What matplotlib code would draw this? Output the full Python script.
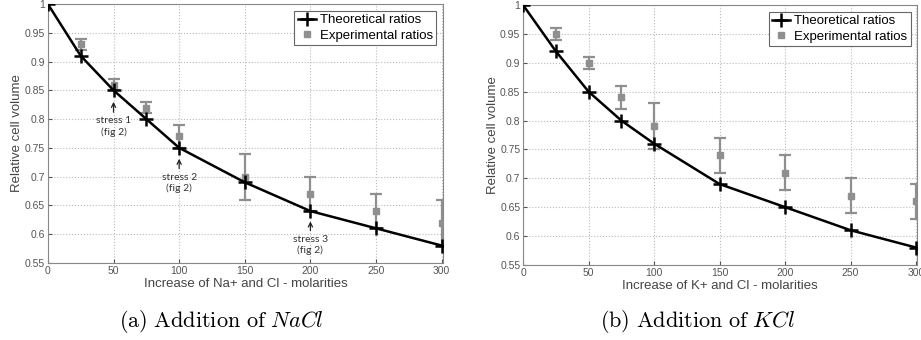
import numpy as np
import matplotlib
matplotlib.use('Agg')
import matplotlib.pyplot as plt

plt.rcParams['font.family'] = ['Liberation Sans', 'DejaVu Sans']
plt.rcParams['mathtext.fontset'] = 'cm'

conc = [0, 25, 50, 75, 100, 150, 200, 250, 300]
exp_conc = [25, 50, 75, 100, 150, 200, 250, 300]

# NaCl
nacl_theo = [1.0, 0.91, 0.85, 0.80, 0.75, 0.69, 0.64, 0.61, 0.58]
nacl_exp = [0.93, 0.86, 0.82, 0.77, 0.70, 0.67, 0.64, 0.62]
nacl_err = [0.01, 0.01, 0.01, 0.02, 0.04, 0.03, 0.03, 0.04]

# KCl
kcl_theo = [1.0, 0.92, 0.85, 0.80, 0.76, 0.69, 0.65, 0.61, 0.58]
kcl_exp = [0.95, 0.90, 0.84, 0.79, 0.74, 0.71, 0.67, 0.66]
kcl_err = [0.01, 0.01, 0.02, 0.04, 0.03, 0.03, 0.03, 0.03]

stress_x = [50, 100, 200]
stress_tip = [0.830, 0.731, 0.622]
stress_text = [0.787, 0.689, 0.581]
stress_labels = ['stress 1\n(fig 2)', 'stress 2\n(fig 2)', 'stress 3\n(fig 2)']

yticks = [0.55, 0.6, 0.65, 0.7, 0.75, 0.8, 0.85, 0.9, 0.95, 1.0]
ytick_labels = ['0.55', '0.6', '0.65', '0.7', '0.75', '0.8', '0.85', '0.9', '0.95', '1']
xticks = [0, 50, 100, 150, 200, 250, 300]

fig = plt.figure(figsize=(9.21, 3.40), dpi=100)
ax1 = fig.add_axes([0.052, 0.227, 0.429, 0.761])
ax2 = fig.add_axes([0.568, 0.221, 0.428, 0.764])

gray = '#8f8f8f'


def draw(ax, theo, exp, err, xlabel):
    ax.errorbar(exp_conc, exp, yerr=err, fmt='none', ecolor=gray,
                elinewidth=1.6, capsize=4, capthick=1.6, zorder=3)
    ax.plot(exp_conc, exp, 's', color=gray, markersize=4.5,
            label='Experimental ratios', zorder=3)
    ax.plot(conc, theo, color='black', lw=1.8, marker='+', markersize=10,
            markeredgewidth=1.8, label='Theoretical ratios', zorder=4)
    ax.set_xlim(0, 301)
    ax.set_ylim(0.55, 1.0)
    ax.set_xticks(xticks)
    ax.set_yticks(yticks)
    ax.set_yticklabels(ytick_labels)
    ax.tick_params(direction='in', labelsize=7.5, colors='#555555', length=3, pad=2)
    ax.tick_params(axis='x', pad=2.5)
    ax.grid(True, linestyle=':', color='#bbbbbb', lw=0.8)
    for s in ax.spines.values():
        s.set_color('#888888')
    ax.set_xlabel(xlabel, fontsize=9.5, color='#444444', labelpad=1)
    ax.set_ylabel('Relative cell volume', fontsize=9.5, color='#444444', labelpad=1)
    h, l = ax.get_legend_handles_labels()
    leg = ax.legend([h[1], h[0]], [l[1], l[0]], loc='upper right', fontsize=9.5,
                    fancybox=False, framealpha=1, edgecolor='#666666',
                    borderpad=0.25, handlelength=1.4, handletextpad=0.3,
                    labelspacing=0.25, borderaxespad=0.5)
    leg.get_frame().set_linewidth(0.8)


draw(ax1, nacl_theo, nacl_exp, nacl_err, 'Increase of Na+ and Cl - molarities')
draw(ax2, kcl_theo, kcl_exp, kcl_err, 'Increase of K+ and Cl - molarities')

for x, tip, ty, lab in zip(stress_x, stress_tip, stress_text, stress_labels):
    ax1.annotate(lab, xy=(x, tip), xytext=(x, ty), ha='center', va='center',
                 fontsize=7.5, color='#333333', family=['Lato', 'DejaVu Sans'],
                 linespacing=1.25,
                 arrowprops=dict(arrowstyle='->', color='#222222', lw=0.9,
                                 shrinkA=1, shrinkB=0))

fig.text(0.240, 0.053, r'$\mathrm{(a)\ Addition\ of}\ NaCl$', ha='center',
         va='center', fontsize=16)
fig.text(0.757, 0.053, r'$\mathrm{(b)\ Addition\ of}\ KCl$', ha='center',
         va='center', fontsize=16)

fig.savefig('out.png', dpi=100)
